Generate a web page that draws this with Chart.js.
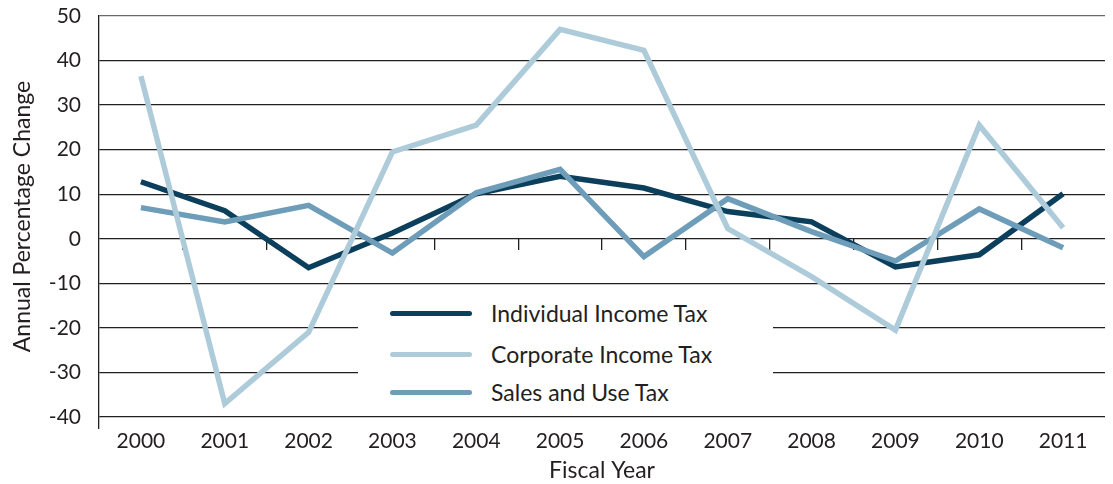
<!DOCTYPE html>
<html><head><meta charset="utf-8">
<script src="https://cdn.jsdelivr.net/npm/chart.js@4"></script>
<style>
html,body{margin:0;padding:0;background:#fff;}
#wrap{position:relative;width:1113px;height:484px;}
#legend{position:absolute;left:358px;top:290px;width:415px;height:122px;background:#fff;font-family:Lato,sans-serif;font-size:23px;color:#231f20;}
.row{position:absolute;left:32px;height:30px;display:flex;align-items:center;white-space:nowrap;}
.sw{width:82px;height:5px;border-radius:3px;margin-right:19px;}
</style></head>
<body>
<div id="wrap">
<canvas id="c" width="1113" height="484"></canvas>
<div id="legend"></div>
</div>
<script>
const years = ['2000','2001','2002','2003','2004','2005','2006','2007','2008','2009','2010','2011'];
const individualIncomeTax = [12.8, 6.3, -6.5, 1.3, 10.1, 14.0, 11.4, 6.1, 3.8, -6.3, -3.6, 10.1];
const corporateIncomeTax  = [36.5, -37.0, -21.0, 19.5, 25.5, 47.0, 42.3, 2.3, -8.5, -20.5, 25.5, 2.5];
const salesAndUseTax      = [7.0, 3.8, 7.5, -3.2, 10.3, 15.6, -4.0, 9.0, 1.6, -5.0, 6.7, -2.0];
const seriesNames  = ['Individual Income Tax', 'Corporate Income Tax', 'Sales and Use Tax'];
const seriesColors = ['#0c3f5c', '#aecbda', '#6d9db8'];
const yMin = -40, yMax = 50, yStep = 10;

const TXT = '#231f20';
const FONT = 'Lato';

const seriesData = [individualIncomeTax, corporateIncomeTax, salesAndUseTax];
const drawOrder = [3, 1, 2];

const datasets = seriesNames.map((n, i) => ({
  label: n,
  data: seriesData[i],
  borderColor: seriesColors[i],
  backgroundColor: seriesColors[i],
  borderWidth: 5.5,
  pointRadius: 0,
  tension: 0,
  fill: false,
  order: drawOrder[i]
}));

// HTML legend built from series arrays
const leg = document.getElementById('legend');
const rowCenters = [23, 64, 102];
seriesNames.forEach((n, i) => {
  const r = document.createElement('div');
  r.className = 'row';
  r.style.top = (rowCenters[i] - 15) + 'px';
  const sw = document.createElement('div');
  sw.className = 'sw';
  sw.style.background = seriesColors[i];
  const t = document.createElement('span');
  t.textContent = n;
  r.appendChild(sw); r.appendChild(t);
  leg.appendChild(r);
});

new Chart(document.getElementById('c'), {
  type: 'line',
  data: { labels: years, datasets },
  options: {
    responsive: false,
    animation: false,
    devicePixelRatio: 1,
    layout: { padding: { top: 16, right: 8, left: 0, bottom: 0 } },
    plugins: { legend: { display: false }, tooltip: { enabled: false } },
    scales: {
      x: {
        type: 'category',
        axis: 'x',
        position: 'bottom',
        offset: true,
        grid: {
          display: true,
          drawOnChartArea: false,
          offset: true,
          tickLength: 12,
          lineWidth: 1.3,
          color: c => c.index === 0 ? TXT : 'rgba(0,0,0,0)'
        },
        border: { display: false },
        ticks: { font: { family: FONT, size: 21 }, color: TXT, padding: 0, maxRotation: 0, autoSkip: false },
        title: { display: true, text: 'Fiscal Year', font: { family: FONT, size: 23 }, color: TXT, padding: { top: 0, bottom: 0 } },
        afterFit: s => { s.height = 67; s.paddingTop = 0; s.paddingBottom = 0; }
      },
      x0: {
        type: 'category',
        axis: 'x',
        position: { y: 0 },
        offset: true,
        grid: {
          display: true,
          drawOnChartArea: false,
          offset: true,
          tickLength: 11,
          lineWidth: 1.3,
          color: c => (typeof c.index !== 'number' || c.index === 0 || c.index >= years.length) ? 'rgba(0,0,0,0)' : TXT
        },
        border: { display: false },
        ticks: { display: false },
        afterFit: s => { s.height = 0; s.paddingTop = 0; s.paddingBottom = 0; s.paddingLeft = 0; s.paddingRight = 0; }
      },
      y: {
        min: yMin,
        max: yMax,
        ticks: { stepSize: yStep, font: { family: FONT, size: 21 }, color: TXT, padding: 18 },
        grid: {
          drawTicks: false,
          lineWidth: 1.3,
          color: c => (c.tick && c.tick.value === yMax) ? '#6a6a6a' : TXT
        },
        border: { display: true, color: TXT, width: 1.3 },
        title: { display: true, text: 'Annual Percentage Change', font: { family: FONT, size: 23 }, color: TXT, padding: { top: 9, bottom: 0 } },
        afterFit: s => { s.width = 99; s.paddingTop = 0; s.paddingBottom = 0; }
      }
    }
  }
});
</script>
</body></html>
